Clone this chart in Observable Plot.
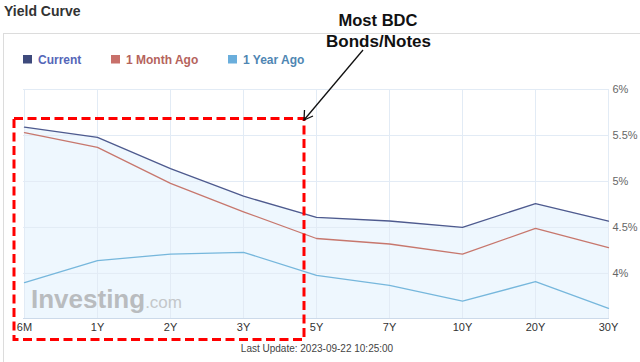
<!DOCTYPE html>
<html><head><meta charset="utf-8">
<script src="https://cdn.jsdelivr.net/npm/d3@7"></script>
<script src="https://cdn.jsdelivr.net/npm/@observablehq/plot@0.6"></script>
<style>
html,body{margin:0;padding:0;background:#fff;}
#wrap{position:relative;width:640px;height:362px;overflow:hidden;font-family:"Liberation Sans",Arial,sans-serif;}
#wrap > svg{position:absolute;left:0;top:0;}
</style></head><body><div id="wrap"></div>
<script>
const maturities = ["6M","1Y","2Y","3Y","5Y","7Y","10Y","20Y","30Y"];
const current  = [5.59,5.48,5.14,4.84,4.61,4.57,4.50,4.76,4.57];
const monthAgo = [5.53,5.37,4.98,4.67,4.38,4.32,4.21,4.49,4.28];
const yearAgo  = [3.90,4.14,4.21,4.23,3.98,3.87,3.70,3.91,3.62];
const seriesNames = ["Current","1 Month Ago","1 Year Ago"];
const yTicks = [4,4.5,5,5.5,6];
const yDomain = [3.51,6];
const chartTitle = "Yield Curve";
const lastUpdate = "Last Update: 2023-09-22 10:25:00";
const annotation = ["Most BDC","Bonds/Notes"];

const lineColors = ["#4e5a8e","#c7776d","#76b7dc"];
const swatchColors = ["#3e4a7c","#c8706a","#6aaedc"];
const labelColors = ["#5566b8","#b5635c","#4f86b3"];

const seriesVals = [current, monthAgo, yearAgo];
const rows = [];
seriesNames.forEach((s,i)=>maturities.forEach((m,j)=>rows.push({series:s, maturity:m, value:seriesVals[i][j]})));
const cur = maturities.map((m,j)=>({maturity:m, value:current[j]}));

const plot = Plot.plot({
  width:640, height:362,
  marginTop:89, marginBottom:44, marginLeft:23, marginRight:31,
  style:{fontFamily:'"Liberation Sans",Arial,sans-serif', fontSize:"11px", background:"transparent", overflow:"visible"},
  x:{type:"point", domain:maturities, padding:0, label:null},
  y:{domain:yDomain, label:null},
  color:{domain:seriesNames, range:lineColors},
  marks:[
    Plot.areaY(cur,{x:"maturity", y1:yDomain[0], y2:"value", fill:"#eef7fe"}),
    Plot.gridY(yTicks,{stroke:"#e2ebf5", strokeOpacity:1}),
    Plot.gridX(maturities,{stroke:"#e2ebf5", strokeOpacity:1}),
    Plot.ruleY([yDomain[0]],{stroke:"#ccdaea"}),
    Plot.lineY(rows,{x:"maturity", y:"value", z:"series", stroke:"series", strokeWidth:1.3}),
    Plot.axisX({tickSize:0, tickPadding:5, fill:"#333", fontSize:11}),
    Plot.axisY(yTicks,{anchor:"right", tickSize:0, tickPadding:3, tickFormat:d=>d+"%", fill:"#666", fontSize:11})
  ]
});
document.getElementById("wrap").appendChild(plot);

// overlay: frame, title, legend, watermark, footer, annotation
const svg = d3.select("#wrap").append("svg").attr("width",640).attr("height",362)
  .style("font-family",'"Liberation Sans",Arial,sans-serif');
svg.append("line").attr("x1",3).attr("x2",640).attr("y1",33.5).attr("y2",33.5).attr("stroke","#dcdcdc");
svg.append("line").attr("x1",3.5).attr("x2",3.5).attr("y1",33).attr("y2",362).attr("stroke","#dcdcdc");
svg.append("text").attr("x",4).attr("y",16).attr("font-size",14).attr("font-weight","bold").attr("fill","#333").text(chartTitle);

const legX = [23,111,228];
seriesNames.forEach((s,i)=>{
  svg.append("rect").attr("x",legX[i]).attr("y",55).attr("width",9).attr("height",8.5).attr("fill",swatchColors[i]);
  svg.append("text").attr("x",legX[i]+15).attr("y",63.5).attr("font-size",12).attr("font-weight","bold").attr("fill",labelColors[i]).text(s);
});

const wm = svg.append("text").attr("x",31).attr("y",308);
wm.append("tspan").attr("font-size",26).attr("font-weight","bold").attr("fill","#b9bcbf").text("Investing");
wm.append("tspan").attr("font-size",17).attr("fill","#c4c7ca").text(".com");

svg.append("text").attr("x",317).attr("y",351.5).attr("text-anchor","middle").attr("font-size",10).attr("fill","#444").text(lastUpdate);

svg.append("rect").attr("x",14).attr("y",118.5).attr("width",290).attr("height",221)
  .attr("fill","none").attr("stroke","#ff0000").attr("stroke-width",3).attr("stroke-dasharray","9,4.5");

svg.append("text").attr("x",378).attr("y",26).attr("text-anchor","middle").attr("font-size",17).attr("font-weight","bold").attr("fill","#111")
  .attr("textLength",79).attr("lengthAdjust","spacingAndGlyphs").text(annotation[0]);
svg.append("text").attr("x",378.5).attr("y",47).attr("text-anchor","middle").attr("font-size",17).attr("font-weight","bold").attr("fill","#111")
  .attr("textLength",105).attr("lengthAdjust","spacingAndGlyphs").text(annotation[1]);

svg.append("line").attr("x1",363).attr("y1",50).attr("x2",304).attr("y2",120).attr("stroke","#111").attr("stroke-width",1.3);
svg.append("path").attr("d","M304.5,110 L304,120 L313,116").attr("fill","none").attr("stroke","#111").attr("stroke-width",1.3);
</script></body></html>
